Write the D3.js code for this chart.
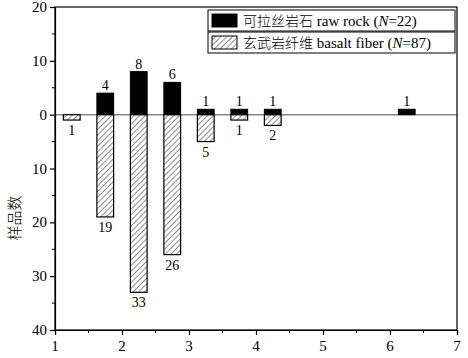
<!DOCTYPE html>
<html>
<head>
<meta charset="utf-8">
<script src="https://cdn.jsdelivr.net/npm/d3@7"></script>
<style>
body{margin:0;background:#fff;}
svg text{font-family:"Liberation Serif","Times New Roman",serif;fill:#000;}
</style>
</head>
<body>
<svg id="chart" width="468" height="358"></svg>
<script>
const binCenters = [1.25, 1.75, 2.25, 2.75, 3.25, 3.75, 4.25, 6.25];
const rawRock =    [0, 4, 8, 6, 1, 1, 1, 1];
const basalt =     [1, 19, 33, 26, 5, 1, 2, 0];
const xTicks = [1, 2, 3, 4, 5, 6, 7];
const yTicks = [20, 10, 0, -10, -20, -30, -40];
const binWidth = 0.25;
const legendLabels = [
  {cn: "可拉丝岩石", en: " raw rock (", n: "22"},
  {cn: "玄武岩纤维", en: " basalt fiber (", n: "87"}
];

const SERIF = "'Liberation Serif','Times New Roman',serif";
const CJK = "'Noto Sans CJK SC',sans-serif";
const svg = d3.select("#chart");
const L = 55, R = 457, T = 7, B = 330;
const x = d3.scaleLinear().domain([1, 7]).range([L, R]);
const y = d3.scaleLinear().domain([20, -40]).range([T, B]);

const defs = svg.append("defs");
const pat = defs.append("pattern").attr("id", "hatch").attr("patternUnits", "userSpaceOnUse")
  .attr("width", 4).attr("height", 4).attr("patternTransform", "rotate(45)");
pat.append("rect").attr("width", 4).attr("height", 4).attr("fill", "#fff");
pat.append("line").attr("x1", 0).attr("y1", 0).attr("x2", 0).attr("y2", 4)
  .attr("stroke", "#000").attr("stroke-width", 0.9);

// zero line
svg.append("line").attr("x1", L).attr("x2", R).attr("y1", y(0)).attr("y2", y(0))
  .attr("stroke", "#888").attr("stroke-width", 1.5);

const data = binCenters.map((c, i) => ({c, raw: rawRock[i], bas: basalt[i]}));
const bw = x(1 + binWidth) - x(1);

// basalt bars (downward)
svg.selectAll(".bas").data(data.filter(d => d.bas > 0)).enter().append("rect")
  .attr("x", d => x(d.c) - bw / 2).attr("width", bw)
  .attr("y", y(0)).attr("height", d => y(-d.bas) - y(0))
  .attr("fill", "url(#hatch)").attr("stroke", "#000").attr("stroke-width", 1.2);
svg.selectAll(".basl").data(data.filter(d => d.bas > 0)).enter().append("text")
  .attr("x", d => x(d.c)).attr("y", d => y(-d.bas) + 15)
  .attr("text-anchor", "middle").style("font-size", "14px").style("font-family", SERIF).style("fill", "#000")
  .text(d => d.bas);

// raw bars (upward)
svg.selectAll(".raw").data(data.filter(d => d.raw > 0)).enter().append("rect")
  .attr("x", d => x(d.c) - bw / 2).attr("width", bw)
  .attr("y", d => y(d.raw)).attr("height", d => y(0) - y(d.raw))
  .attr("fill", "#000").attr("stroke", "#000").attr("stroke-width", 1);
svg.selectAll(".rawl").data(data.filter(d => d.raw > 0)).enter().append("text")
  .attr("x", d => x(d.c)).attr("y", d => y(d.raw) - 3)
  .attr("text-anchor", "middle").style("font-size", "14px").style("font-family", SERIF).style("fill", "#000")
  .text(d => d.raw);

// frame
svg.append("rect").attr("x", L).attr("y", T).attr("width", R - L).attr("height", B - T)
  .attr("fill", "none").attr("stroke", "#000").attr("stroke-width", 1.2);

// axes (lines via d3.axis, labels drawn as serif text from the same scales)
const xAxis = d3.axisBottom(x).tickValues(xTicks).tickFormat("").tickSize(5);
const gx = svg.append("g").attr("transform", `translate(0,${B})`).call(xAxis);
gx.selectAll(".minor").data(d3.range(1.5, 7, 1)).enter().append("line")
  .attr("x1", d => x(d)).attr("x2", d => x(d)).attr("y1", 0).attr("y2", 3).attr("stroke", "#000");

const yAxis = d3.axisLeft(y).tickValues(yTicks).tickFormat("").tickSize(5);
const gy = svg.append("g").attr("transform", `translate(${L},0)`).call(yAxis);
gy.selectAll(".minor").data(d3.range(15, -40, -10)).enter().append("line")
  .attr("y1", d => y(d)).attr("y2", d => y(d)).attr("x1", 0).attr("x2", -3).attr("stroke", "#000");

[gx, gy].forEach(g => {
  g.select(".domain").attr("stroke", "#000").attr("stroke-width", 1.2);
  g.selectAll(".tick line").attr("stroke", "#000").attr("stroke-width", 1.2);
});

svg.append("g").selectAll("text").data(xTicks).enter().append("text")
  .attr("x", d => x(d)).attr("y", B + 21).attr("text-anchor", "middle")
  .style("font-size", "15px").style("font-family", SERIF).style("fill", "#000").text(d => d);
svg.append("g").selectAll("text").data(yTicks).enter().append("text")
  .attr("x", L - 8).attr("y", d => y(d) + 5).attr("text-anchor", "end")
  .style("font-size", "15px").style("font-family", SERIF).style("fill", "#000").text(d => Math.abs(d));

// y label
svg.append("text").attr("transform", "translate(20,218) rotate(-90)")
  .attr("text-anchor", "middle").style("font-size", "15px")
  .style("font-family", CJK).style("font-weight", 300).text("样品数");

// legend
const lx = 208, lw = 247, lh = 21;
legendLabels.forEach((d, i) => {
  const ly = 10 + i * 22;
  const g = svg.append("g").attr("transform", `translate(${lx},${ly})`);
  g.append("rect").attr("width", lw).attr("height", lh).attr("fill", "#fff")
    .attr("stroke", "#000").attr("stroke-width", 1);
  g.append("rect").attr("x", 4).attr("y", 4).attr("width", 25).attr("height", 13)
    .attr("fill", i === 0 ? "#000" : "url(#hatch)").attr("stroke", "#000").attr("stroke-width", 1);
  const t = g.append("text").attr("x", 35).attr("y", 16).style("font-size", "15px")
    .style("font-family", SERIF).style("fill", "#000");
  t.append("tspan").style("font-family", CJK).style("font-weight", 300)
    .style("font-size", "14px").text(d.cn);
  t.append("tspan").text(d.en);
  t.append("tspan").style("font-style", "italic").text("N");
  t.append("tspan").text("=" + d.n + ")");
});
</script>
</body>
</html>
